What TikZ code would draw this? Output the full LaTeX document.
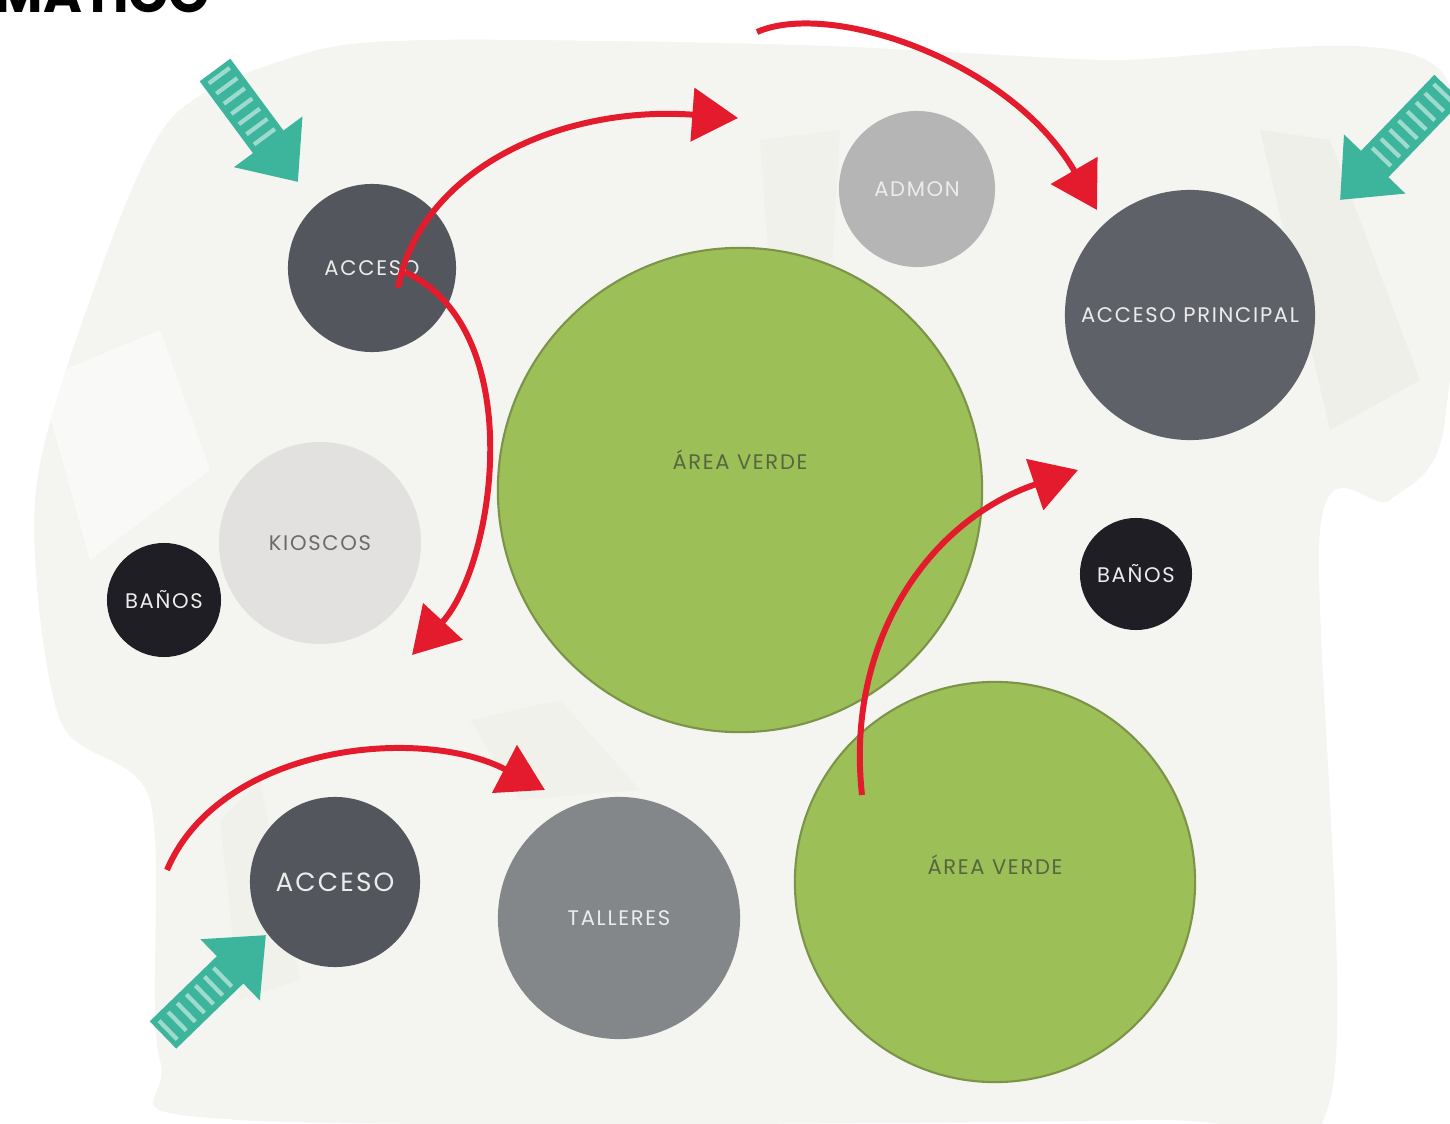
\documentclass[tikz,border=0pt]{standalone}
\usepackage{fontspec}
\setmainfont{Poppins}
\usetikzlibrary{arrows.meta}

\definecolor{fondo}{HTML}{F4F5F0}
\definecolor{mancha}{HTML}{E8EBE1}
\definecolor{oscuro}{HTML}{53565D}
\definecolor{principal}{HTML}{5E6167}
\definecolor{admon}{HTML}{B5B5B5}
\definecolor{kiosco}{HTML}{E3E1E0}
\definecolor{banos}{HTML}{1F1E24}
\definecolor{taller}{HTML}{83878A}
\definecolor{verde}{HTML}{9DBF58}
\definecolor{verdeborde}{HTML}{7C9448}
\definecolor{verdetxt}{HTML}{56663F}
\definecolor{claro}{HTML}{ECECEC}
\definecolor{gristxt}{HTML}{6A6A6A}
\definecolor{rojo}{HTML}{E31B2C}
\definecolor{turquesa}{HTML}{3DB59C}

\tikzset{
    zona/.style={circle, inner sep=0pt, font=\fontsize{6}{7}\selectfont\addfontfeature{LetterSpace=8}},
    zonaverde/.style={zona, fill=verde, draw=verdeborde, line width=0.6pt},
    flecha/.style={draw=rojo, line width=1.7pt, -{Triangle[length=13pt,width=15pt]}},
    entrada/.style={draw=turquesa, line width=0.38cm, -{Triangle[length=0.5cm,width=0.82cm]}},
    rayado/.style={draw=turquesa!50!white, line width=0.26cm, dash pattern=on 1.2pt off 2.4pt, shorten >=0.5cm, shorten <=0.05cm},
}

\begin{document}
\begin{tikzpicture}[x=0.01cm, y=-0.01cm]
    \useasboundingbox (0,0) rectangle (1450,1124);
    \fill[white] (0,0) rectangle (1450,1124);

    % fondo del plano
    \fill[fondo] plot[smooth cycle, tension=0.5] coordinates {(430,40) (800,45) (1100,60) (1440,70) (1445,420) (1390,500) (1320,530) (1330,1100) (1150,1120) (240,1120) (160,1060) (150,800) (60,720) (35,500) (90,300) (170,120) (300,55)};
    % manchas
    \fill[mancha, opacity=0.5] (1260,130) -- (1330,140) -- (1420,380) -- (1330,430) -- cycle;
    \fill[mancha, opacity=0.4] (760,140) -- (840,130) -- (830,300) -- (770,280) -- cycle;
    \fill[mancha, opacity=0.35] (470,720) -- (560,700) -- (640,790) -- (520,800) -- cycle;
    \fill[mancha, opacity=0.35] (220,820) -- (260,780) -- (300,980) -- (240,1000) -- cycle;
    \fill[white, opacity=0.5] (40,380) -- (160,330) -- (210,470) -- (90,560) -- cycle;

    % titulo cortado
    \node[anchor=base west, inner sep=0pt, font=\fontsize{15}{15}\selectfont\bfseries] (T) at (-6,12) {MATICO};

    % zonas
    \node[zona, fill=oscuro, text=claro, minimum size=1.68cm] (AC) at (372,268) {ACCESO};
    \node[zona, fill=admon, text=claro, minimum size=1.56cm] (AD) at (917,189) {ADMON};
    \node[zona, fill=principal, text=claro, minimum size=2.5cm] (AP) at (1190,315) {ACCESO PRINCIPAL};
    \node[zonaverde, minimum size=4.84cm, label={[zona, text=verdetxt, yshift=0.3cm]center:ÁREA VERDE}] (AV) at (740,490) {};
    \node[zona, fill=kiosco, text=gristxt, minimum size=2.02cm] (KI) at (320,543) {KIOSCOS};
    \node[zona, fill=banos, text=claro, minimum size=1.14cm] (B1) at (164,600) {BAÑOS};
    \node[zona, fill=banos, text=claro, minimum size=1.12cm] (B2) at (1136,574) {BAÑOS};
    \node[zona, fill=oscuro, text=claro, minimum size=1.7cm, font=\fontsize{7.5}{9}\selectfont\addfontfeature{LetterSpace=8}] (AC2) at (335,882) {ACCESO};
    \node[zona, fill=taller, text=claro, minimum size=2.42cm] (TA) at (619,918) {TALLERES};
    \node[zonaverde, minimum size=4cm, label={[zona, text=verdetxt, yshift=0.17cm]center:ÁREA VERDE}] (AV2) at (995,882) {};

    % flechas rojas
    \coordinate (a0) at (398,288);
    \coordinate (a1) at (738,118);
    \coordinate (b0) at (405,272);
    \coordinate (b1) at (412,655);
    \coordinate (c0) at (757,32);
    \coordinate (c1) at (1097,210);
    \coordinate (d0) at (862,795);
    \coordinate (d1) at (1078,470);
    \coordinate (e0) at (167,870);
    \coordinate (e1) at (545,790);
    \draw[flecha] (a0) .. controls (420,170) and (560,105) .. (a1);
    \draw[flecha] (b0) .. controls (530,330) and (495,565) .. (b1);
    \draw[flecha] (c0) .. controls (830,0) and (1010,60) .. (c1);
    \draw[flecha] (d0) .. controls (845,640) and (930,520) .. (d1);
    \draw[flecha] (e0) .. controls (220,745) and (420,725) .. (e1);

    % flechas de entrada
    \coordinate (t1a) at (215,70);
    \coordinate (t1b) at (298,182);
    \coordinate (t2a) at (1448,88);
    \coordinate (t2b) at (1340,200);
    \coordinate (t3a) at (163,1035);
    \coordinate (t3b) at (266,935);
    \foreach \i in {1,2,3}{%
        \draw[entrada] (t\i a) -- (t\i b);
        \draw[rayado] (t\i a) -- (t\i b);
    }
\end{tikzpicture}
\end{document}
